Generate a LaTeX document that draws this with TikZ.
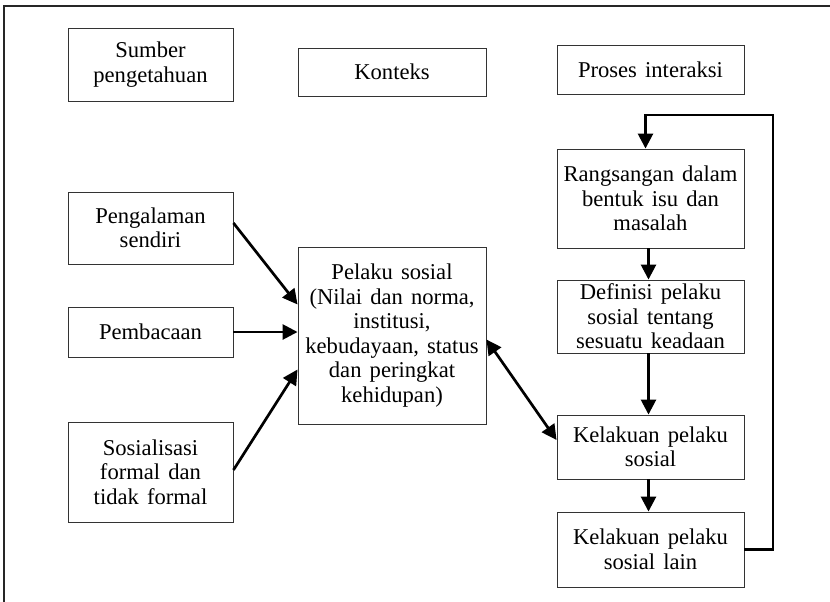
\documentclass[tikz,border=0pt]{standalone}
\usepackage{fontspec}
\setmainfont{Liberation Serif}
\usetikzlibrary{arrows.meta}
\newcommand{\boxfont}{\fontsize{22.6}{24.5}\selectfont\spaceskip=0.36em plus 0.1em\relax}
\tikzset{
  box/.style={draw=black!80, line width=0.9pt, inner sep=0pt, align=center,
    font=\boxfont},
  conn/.style={line width=2.7pt, -{Triangle[length=15pt,width=15pt]}},
  dconn/.style={line width=2.7pt, {Triangle[length=15pt,width=15pt]}-{Triangle[length=15pt,width=15pt]}},
}
\begin{document}
\begin{tikzpicture}[x=1pt,y=-1pt]
\useasboundingbox (0,0) rectangle (830,602);
\draw[black!85, line width=1.4pt] (4,604) -- (4,6) -- (832,6);
% header row
\node[box, minimum width=165pt, minimum height=73pt] (sumber) at (150.5,64.5) {Sumber\\pengetahuan};
\node[box, minimum width=188pt, minimum height=48pt] (konteks) at (392,72) {Konteks};
\node[box, minimum width=187pt, minimum height=49pt] (proses) at (650.5,69.5) {Proses interaksi};
% left column
\node[box, minimum width=165pt, minimum height=72pt] (peng) at (150.5,228) {Pengalaman\\sendiri};
\node[box, minimum width=165pt, minimum height=50pt] (pemb) at (150.5,332) {Pembacaan};
\node[box, minimum width=165pt, minimum height=100pt] (sos) at (150.5,472) {Sosialisasi\\formal dan\\tidak formal};
% middle
\node[box, minimum width=188pt, minimum height=177pt] (pelaku) at (392,335.5) {Pelaku sosial\\(Nilai dan norma,\\institusi,\\kebudayaan, status\\dan peringkat\\kehidupan)};
% right column
\node[box, minimum width=187pt, minimum height=99pt] (rang) at (650.5,198.5) {Rangsangan dalam\\bentuk isu dan\\masalah};
\node[box, minimum width=187pt, minimum height=73pt] (def) at (650.5,316.5) {Definisi pelaku\\sosial tentang\\sesuatu keadaan};
\node[box, minimum width=187pt, minimum height=64pt] (kel) at (650.5,447) {Kelakuan pelaku\\sosial};
\node[box, minimum width=187pt, minimum height=75pt] (lain) at (650.5,549.5) {Kelakuan pelaku\\sosial lain};
% connectors
\draw[conn] ([yshift=5pt]peng.east) -- ([yshift=31pt]pelaku.west);
\draw[conn] (pemb.east) -- (pelaku.west |- pemb.east);
\draw[conn] ([yshift=2pt]sos.east) -- ([yshift=-34pt]pelaku.west);
\draw[dconn] ([yshift=-4pt]pelaku.east) -- ([yshift=7pt]kel.west);
\draw[conn] ([xshift=-2pt]rang.south) -- ([xshift=-2pt]def.north);
\draw[conn] ([xshift=-2pt]def.south) -- ([xshift=-2pt]kel.north);
\draw[conn] ([xshift=-2pt]kel.south) -- ([xshift=-2pt]lain.north);
\coordinate (loopR) at (773,115);
\draw[conn] (lain.east) -| (loopR) -| ([xshift=-5pt]rang.north);
\end{tikzpicture}
\end{document}
